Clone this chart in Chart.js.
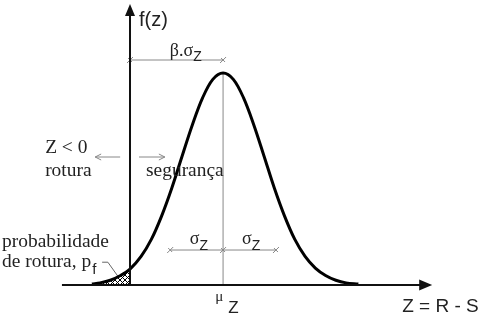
<!DOCTYPE html>
<html><head><meta charset="utf-8">
<script src="https://cdn.jsdelivr.net/npm/chart.js@4/dist/chart.umd.min.js"></script>
<style>html,body{margin:0;padding:0;background:#fff}#wrap{width:483px;height:321px}</style>
</head><body><div id="wrap"><canvas id="c" width="483" height="321"></canvas></div>
<script>
// ---- data (z in curve-sigma units, origin at the f(z) axis) ----
const zValues = [-0.93, -0.73, -0.48, -0.23, 0, 0.27, 0.52, 0.77, 1.02, 1.27, 1.52, 1.77, 2.02, 2.27,
                 2.52, 2.77, 3.02, 3.27, 3.52, 3.77, 4.02, 4.27, 4.52, 4.77, 5.02, 5.27, 5.57];
const densityValues = [0.002, 0.004, 0.009, 0.018, 0.030, 0.054, 0.086, 0.130, 0.183, 0.243, 0.302, 0.353, 0.388, 0.400,
                       0.388, 0.353, 0.302, 0.243, 0.183, 0.130, 0.086, 0.054, 0.032, 0.018, 0.009, 0.004, 0.002];
const meanZ = 2.27;
const sigmaMarks = [0.98, 2.27, 3.56];
const betaSpan = [0, 2.27];

// ---- annotation anchors (data units) ----
const A = {
  xMin: -3.171, xMax: 8.610, yMin: -0.0679, yMax: 0.5377,
  axisXStart: -1.66, axisXEnd: 7.37, axisYTop: 0.530,
  betaY: 0.4245, sigmaY: 0.066, arrowY: 0.2415,
  leftArrow: [-0.24, -0.85], rightArrow: [0.22, 0.85]
};

const pts = zValues.map((z, i) => ({x: z, y: densityValues[i]}));
const tailPts = pts.filter(p => p.x <= 0);

function hatchPattern() {
  const c = document.createElement('canvas');
  c.width = 5; c.height = 5;
  const g = c.getContext('2d');
  g.fillStyle = '#fff'; g.fillRect(0, 0, 5, 5);
  g.strokeStyle = '#000'; g.lineWidth = 1;
  g.beginPath();
  g.moveTo(0, 0); g.lineTo(5, 5);
  g.moveTo(5, 0); g.lineTo(0, 5);
  g.stroke();
  return g.createPattern(c, 'repeat');
}

const SERIF = '"Liberation Serif", "Times New Roman", serif';
const SANS = '"Liberation Sans", Arial, sans-serif';

function txt(ctx, s, x, y, font, sx) {
  ctx.save();
  ctx.font = font;
  ctx.translate(x, y);
  ctx.scale(sx || 1, 1);
  ctx.fillText(s, 0, 0);
  const w = ctx.measureText(s).width * (sx || 1);
  ctx.restore();
  return x + w;
}

const deco = {
  id: 'deco',
  beforeDatasetsDraw(chart) {
    const ctx = chart.ctx, X = chart.scales.x, Y = chart.scales.y;
    const px = v => X.getPixelForValue(v), py = v => Y.getPixelForValue(v);
    ctx.save();
    ctx.strokeStyle = '#888'; ctx.lineWidth = 1;
    // mean line
    ctx.beginPath(); ctx.moveTo(px(meanZ), py(0)); ctx.lineTo(px(meanZ), py(0.4)); ctx.stroke();
    // beta line
    const cross = (x, y) => { ctx.beginPath(); ctx.moveTo(x - 3, y + 3); ctx.lineTo(x + 3, y - 3); ctx.moveTo(x - 2, y - 2); ctx.lineTo(x + 2, y + 2); ctx.stroke(); };
    ctx.beginPath(); ctx.moveTo(px(betaSpan[0]), py(A.betaY)); ctx.lineTo(px(betaSpan[1]), py(A.betaY)); ctx.stroke();
    cross(px(betaSpan[0]), py(A.betaY)); cross(px(betaSpan[1]), py(A.betaY));
    // sigma line
    ctx.beginPath(); ctx.moveTo(px(sigmaMarks[0]), py(A.sigmaY)); ctx.lineTo(px(sigmaMarks[2]), py(A.sigmaY)); ctx.stroke();
    sigmaMarks.forEach(s => cross(px(s), py(A.sigmaY)));
    // arrows
    const arrow = (a, b) => {
      const y = py(A.arrowY), x0 = px(a), x1 = px(b), d = Math.sign(x1 - x0);
      ctx.beginPath(); ctx.moveTo(x0, y); ctx.lineTo(x1, y);
      ctx.moveTo(x1 - d * 6, y - 3); ctx.lineTo(x1, y); ctx.lineTo(x1 - d * 6, y + 3); ctx.stroke();
    };
    arrow(A.leftArrow[0], A.leftArrow[1]);
    arrow(A.rightArrow[0], A.rightArrow[1]);
    // leader line to tail
    ctx.strokeStyle = '#666';
    ctx.beginPath(); ctx.moveTo(px(-0.68), py(0.043)); ctx.lineTo(px(-0.54), py(0.043)); ctx.lineTo(px(-0.30), py(0.017)); ctx.stroke();
    ctx.restore();
  },
  afterDatasetsDraw(chart) {
    const ctx = chart.ctx, X = chart.scales.x, Y = chart.scales.y;
    const px = v => X.getPixelForValue(v), py = v => Y.getPixelForValue(v);
    ctx.save();
    // axes
    ctx.strokeStyle = '#111'; ctx.fillStyle = '#111'; ctx.lineWidth = 2;
    const x0 = px(0), y0 = py(0);
    ctx.beginPath(); ctx.moveTo(px(A.axisXStart), y0); ctx.lineTo(px(A.axisXEnd) - 10, y0); ctx.stroke();
    ctx.beginPath(); ctx.moveTo(px(A.axisXEnd), y0); ctx.lineTo(px(A.axisXEnd) - 13, y0 - 5.5); ctx.lineTo(px(A.axisXEnd) - 13, y0 + 5.5); ctx.closePath(); ctx.fill();
    ctx.beginPath(); ctx.moveTo(x0, y0); ctx.lineTo(x0, py(A.axisYTop) + 10); ctx.stroke();
    ctx.beginPath(); ctx.moveTo(x0, py(A.axisYTop)); ctx.lineTo(x0 - 5, py(A.axisYTop) + 12); ctx.lineTo(x0 + 5, py(A.axisYTop) + 12); ctx.closePath(); ctx.fill();

    // texts
    ctx.fillStyle = '#222'; ctx.textBaseline = 'alphabetic'; ctx.textAlign = 'left';
    txt(ctx, 'f(z)', px(0.22), py(0.489), '20px ' + SANS);
    let e = txt(ctx, 'β.σ', px(0.97), py(0.432), '18px ' + SERIF);
    txt(ctx, 'Z', e, py(0.422), '14px ' + SANS);
    txt(ctx, 'Z < 0', px(-2.07), py(0.249), '18px ' + SERIF, 1.08);
    txt(ctx, 'rotura', px(-2.07), py(0.206), '18px ' + SERIF, 1.08);
    txt(ctx, 'segurança', px(0.39), py(0.206), '18px ' + SERIF, 1.08);
    txt(ctx, 'probabilidade', px(-3.12), py(0.072), '18px ' + SERIF, 1.08);
    e = txt(ctx, 'de rotura, p', px(-3.12), py(0.034), '18px ' + SERIF, 1.08);
    txt(ctx, 'f', e + 1, py(0.021), '15px ' + SANS);
    e = txt(ctx, 'σ', px(1.46), py(0.077), '18px ' + SERIF);
    txt(ctx, 'Z', e, py(0.066), '14px ' + SANS);
    e = txt(ctx, 'σ', px(2.73), py(0.077), '18px ' + SERIF);
    txt(ctx, 'Z', e, py(0.066), '14px ' + SANS);
    e = txt(ctx, 'μ', px(2.08), py(-0.030), '15px ' + SERIF);
    txt(ctx, 'Z', e + 5, py(-0.052), '17px ' + SANS);
    txt(ctx, 'Z = R - S', px(6.64), py(-0.051), '19px ' + SANS);
    ctx.restore();
  }
};

new Chart(document.getElementById('c'), {
  type: 'line',
  data: {
    datasets: [
      { data: tailPts, fill: 'origin', backgroundColor: hatchPattern(), borderWidth: 0, pointRadius: 0, tension: 0.35, order: 2 },
      { data: pts, fill: false, borderColor: '#000', borderWidth: 3, pointRadius: 0, tension: 0.35, order: 1 }
    ]
  },
  options: {
    responsive: false, animation: false,
    layout: { padding: 0 },
    plugins: { legend: { display: false }, tooltip: { enabled: false } },
    scales: {
      x: { type: 'linear', display: false, min: A.xMin, max: A.xMax },
      y: { type: 'linear', display: false, min: A.yMin, max: A.yMax }
    }
  },
  plugins: [deco]
});
</script>
</body></html>
